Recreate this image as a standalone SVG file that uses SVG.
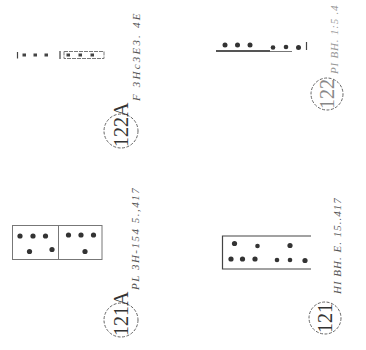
<svg xmlns="http://www.w3.org/2000/svg" width="366" height="350" viewBox="0 0 366 350">
<style>
.bg{fill:#fff}
.dot{fill:#333}
.sq{fill:#444}
.ln{stroke:#444;stroke-width:1.2;fill:none}
.lt{stroke:#777;stroke-width:1;fill:none}
.circ{fill:none;stroke:#666;stroke-width:1;stroke-dasharray:3 1.5}
.num{font-family:"Liberation Serif",serif;font-size:20px;fill:#333}
.cap{font-family:"Liberation Serif",serif;font-style:italic;font-size:11px;fill:#555;letter-spacing:1.5px}
</style>
<rect class="bg" x="0" y="0" width="366" height="350"/>
<g id="connectors"/>
<g id="fig-122A">
  <line class="ln" x1="17.5" y1="52" x2="17.5" y2="58.5"/>
  <rect class="sq" x="22.5" y="53.5" width="3.5" height="3"/>
  <rect class="sq" x="33.5" y="53.5" width="3.5" height="3"/>
  <rect class="sq" x="44.5" y="53.5" width="3.5" height="3"/>
  <line class="ln" x1="60" y1="51" x2="60" y2="59"/>
  <rect class="lt" x="64" y="51.5" width="40" height="7" stroke-dasharray="4 1"/>
  <rect class="sq" x="66.5" y="53.5" width="3.5" height="3"/>
  <rect class="sq" x="78.5" y="53.5" width="3.5" height="3"/>
  <rect class="sq" x="90.5" y="53.5" width="3.5" height="3"/>
  <circle class="circ" cx="121" cy="131" r="17"/>
  <text class="num" transform="translate(128,147) rotate(-90)">122A</text>
  <text class="cap" style="letter-spacing:2.2px" transform="translate(140,101) rotate(-90)">F 3Hc3E3. 4E</text>
</g>
<g id="fig-122">
  <circle class="dot" cx="225" cy="45" r="2.5"/>
  <circle class="dot" cx="237.5" cy="45" r="2.5"/>
  <circle class="dot" cx="250" cy="45" r="2.5"/>
  <circle class="dot" cx="273" cy="47.5" r="2.3"/>
  <circle class="dot" cx="286" cy="47" r="2.3"/>
  <circle class="dot" cx="298.5" cy="47.5" r="2.5"/>
  <line class="ln" x1="306.5" y1="42" x2="306.5" y2="50"/>
  <line stroke="#555" stroke-width="1.8" x1="216" y1="51" x2="270" y2="51"/>
  <line class="lt" x1="270" y1="51.5" x2="292" y2="51.5"/>
  <circle class="circ" cx="327" cy="94" r="16" stroke="#999"/>
  <text class="num" transform="translate(334,109) rotate(-90)" style="fill:#888">122</text>
  <text class="cap" transform="translate(338,74) rotate(-90)" style="fill:#999;letter-spacing:0.8px">PI BH. 1:5 .4</text>
</g>
<g id="fig-121A">
  <rect class="lt" x="12.5" y="225.5" width="89.5" height="34"/>
  <line class="lt" x1="58.5" y1="225.5" x2="58.5" y2="259.5"/>
  <circle class="dot" cx="20" cy="236" r="2.6"/>
  <circle class="dot" cx="33" cy="236" r="2.6"/>
  <circle class="dot" cx="45.5" cy="236" r="2.6"/>
  <circle class="dot" cx="68.5" cy="235" r="2.6"/>
  <circle class="dot" cx="81" cy="235" r="2.6"/>
  <circle class="dot" cx="93.5" cy="235" r="2.6"/>
  <circle class="dot" cx="29.5" cy="251.5" r="2.6"/>
  <circle class="dot" cx="52" cy="249.5" r="2.6"/>
  <circle class="dot" cx="85" cy="251.5" r="2.6"/>
  <circle class="circ" cx="121" cy="320" r="17"/>
  <text class="num" transform="translate(128,336) rotate(-90)">121A</text>
  <text class="cap" transform="translate(139,290) rotate(-90)">PL 3H-154 5.,417</text>
</g>
<g id="fig-121">
  <polyline class="ln" points="311,236 222.5,236 222.5,269 311,269"/>
  <circle class="dot" cx="234.5" cy="243.5" r="2.6"/>
  <circle class="dot" cx="257.5" cy="246" r="2.3"/>
  <circle class="dot" cx="290" cy="245.5" r="2.6"/>
  <circle class="dot" cx="231" cy="259" r="2.6"/>
  <circle class="dot" cx="242.5" cy="259" r="2.6"/>
  <circle class="dot" cx="255" cy="259" r="2.6"/>
  <circle class="dot" cx="277" cy="260" r="2.3"/>
  <circle class="dot" cx="290" cy="260" r="2.3"/>
  <circle class="dot" cx="305" cy="260.5" r="2.6"/>
  <circle class="circ" cx="325" cy="318" r="16" stroke="#888"/>
  <text class="num" transform="translate(332,333) rotate(-90)">121</text>
  <text class="cap" style="letter-spacing:1px" transform="translate(341,294) rotate(-90)">HI BH. E. 15..417</text>
</g>
</svg>
